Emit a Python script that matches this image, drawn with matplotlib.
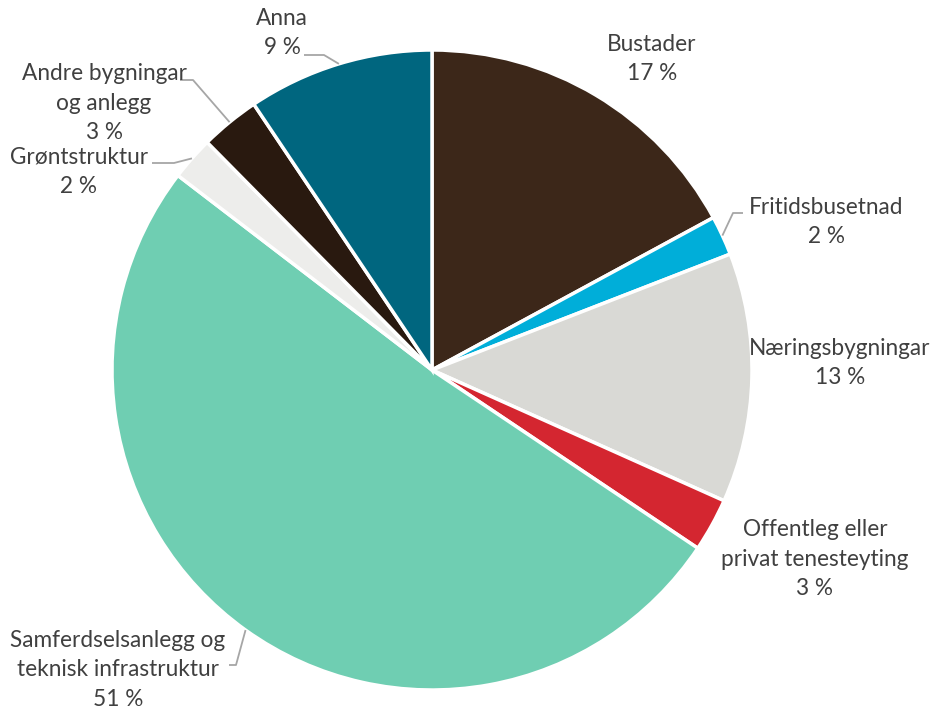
import matplotlib
matplotlib.use("Agg")
import matplotlib.pyplot as plt
import numpy as np

categories = ["Bustader", "Fritidsbusetnad", "Næringsbygningar",
              "Offentleg eller\nprivat tenesteyting",
              "Samferdselsanlegg og\nteknisk infrastruktur",
              "Grøntstruktur", "Andre bygningar\nog anlegg", "Anna"]
values = [17.1, 2.0, 12.6, 2.7, 51.0, 2.2, 3.0, 9.4]
colors = ["#3C2719", "#00AED9", "#D9D9D5", "#D42630", "#6FCEB2",
          "#EDEDEB", "#29190F", "#00667F"]

W, H = 931, 711
fig = plt.figure(figsize=(W / 100, H / 100), dpi=100)
ax = fig.add_axes([0, 0, 1, 1])

cx, cy, R = 432, H - 370, 320
wedges, _ = ax.pie(values, colors=colors, startangle=90, counterclock=False,
                   center=(cx, cy), radius=R, frame=True,
                   wedgeprops=dict(edgecolor="white", linewidth=2.5))
ax.set_xlim(0, W)
ax.set_ylim(0, H)
ax.set_aspect("equal")
ax.axis("off")

# label layout (pixel coords, y from top): text center, leader (start_x, line_y, elbow_x)
label_pos = [
    (652, 59, None),
    (826, 222, (743, 213, 733)),
    (840, 363, None),
    (815, 559, None),
    (118, 670, (229, 665, 236)),
    (79, 172, (152, 163, 174)),
    (104, 103, (180, 80, 193)),
    (282, 33, (304, 55, 324)),
]

txtcol = "#404040"
for w, cat, v, (tx, ty, lead) in zip(wedges, categories, values, label_pos):
    ax.text(tx, H - ty, f"{cat}\n{v:.0f} %", ha="center", va="center",
            fontsize=16.3, family="Lato", color=txtcol, linespacing=1.48)
    if lead is not None:
        mid = np.deg2rad((w.theta1 + w.theta2) / 2)
        px, py = cx + R * np.cos(mid), cy + R * np.sin(mid)
        sx, ly, ex = lead
        ax.plot([sx, ex, px], [H - ly, H - ly, py], color="#A6A6A6", lw=1.3,
                solid_capstyle="butt")

fig.savefig("out.png", dpi=100, facecolor="white")
